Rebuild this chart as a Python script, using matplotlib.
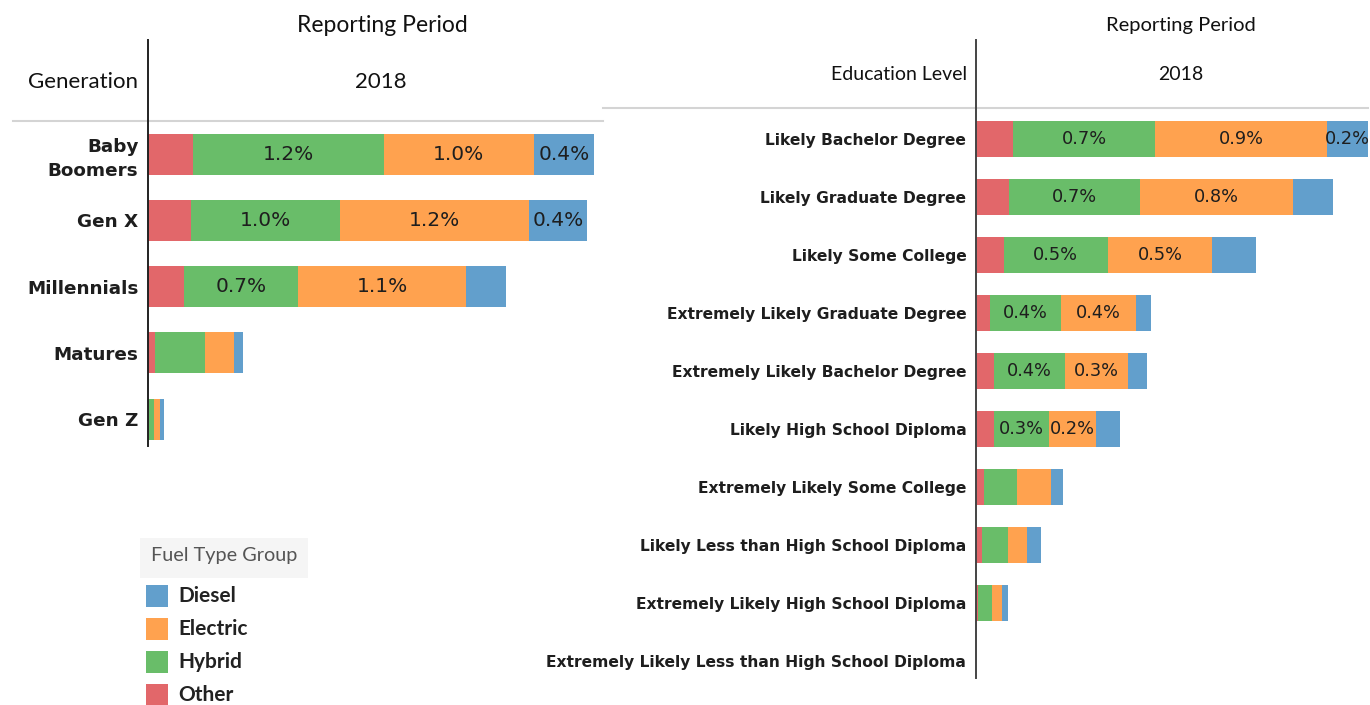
import matplotlib
matplotlib.use("Agg")
import matplotlib.pyplot as plt
from matplotlib.patches import Rectangle
from matplotlib.lines import Line2D

# ---- data (share of registrations, %) ----
fuel_types = ["Other", "Hybrid", "Electric", "Diesel"]
colors = {"Diesel": "#629FCC", "Electric": "#FFA24F", "Hybrid": "#69BD69", "Other": "#E2676A"}

generations = ["Baby\nBoomers", "Gen X", "Millennials", "Matures", "Gen Z"]
gen_other    = [0.29, 0.28, 0.23, 0.045, 0.006]
gen_hybrid   = [1.23, 0.96, 0.74, 0.32, 0.03]
gen_electric = [0.97, 1.22, 1.08, 0.19, 0.04]
gen_diesel   = [0.39, 0.37, 0.26, 0.06, 0.025]
gen_labels = {"Other":    [False] * 5,
              "Hybrid":   [True, True, True, False, False],
              "Electric": [True, True, True, False, False],
              "Diesel":   [True, True, False, False, False]}

education = ["Likely Bachelor Degree", "Likely Graduate Degree", "Likely Some College",
             "Extremely Likely Graduate Degree", "Extremely Likely Bachelor Degree",
             "Likely High School Diploma", "Extremely Likely Some College",
             "Likely Less than High School Diploma", "Extremely Likely High School Diploma",
             "Extremely Likely Less than High School Diploma"]
edu_other    = [0.19, 0.17, 0.14, 0.07, 0.09, 0.09, 0.04, 0.03, 0.01, 0.0]
edu_hybrid   = [0.72, 0.66, 0.53, 0.36, 0.36, 0.28, 0.17, 0.13, 0.07, 0.0]
edu_electric = [0.87, 0.78, 0.53, 0.38, 0.32, 0.24, 0.17, 0.10, 0.05, 0.0]
edu_diesel   = [0.21, 0.20, 0.22, 0.08, 0.10, 0.12, 0.06, 0.07, 0.03, 0.0]
edu_labels = {"Other":    [False] * 10,
              "Hybrid":   [True] * 6 + [False] * 4,
              "Electric": [True] * 6 + [False] * 4,
              "Diesel":   [True] + [False] * 9}

W, H = 1370, 705
fig = plt.figure(figsize=(W / 100, H / 100), dpi=100)
fig.patch.set_facecolor("white")

HEAD_FONT = ["Lato", "DejaVu Sans"]
LABEL_FONT = ["DejaVu Sans"]


def fx(x):
    return x / W


def fy(y):
    return 1 - y / H


def stacked(ax, cats, series, labels, fontsize, lab_size, height):
    y = range(len(cats))
    left = [0.0] * len(cats)
    for name in fuel_types:
        vals = series[name]
        ax.barh(list(y), vals, left=left, height=height, color=colors[name],
                edgecolor="none")
        for i, v in enumerate(vals):
            if labels[name][i]:
                ax.text(left[i] + v / 2, i, f"{v:.1f}%", ha="center", va="center",
                        fontsize=lab_size, color="#1e1e1e", family=LABEL_FONT)
        left = [l + v for l, v in zip(left, vals)]
    ax.set_yticks(list(y))
    ax.set_yticklabels(cats, fontsize=fontsize, fontweight="bold", family=LABEL_FONT,
                       color="#1e1e1e", linespacing=1.45)
    ax.tick_params(axis="y", length=0, pad=7)
    ax.tick_params(axis="x", bottom=False, labelbottom=False)
    for s in ax.spines.values():
        s.set_visible(False)


# ---- left panel: generation ----
axl = fig.add_axes([fx(148), fy(445), fx(603) - fx(148), fy(121) - fy(445)])
stacked(axl, generations,
        {"Other": gen_other, "Hybrid": gen_hybrid, "Electric": gen_electric, "Diesel": gen_diesel},
        gen_labels, 13.2, 14.5, 0.62)
axl.set_xlim(0, 455 / 155)
axl.set_ylim(4.39, -0.5)

# ---- right panel: education level ----
axr = fig.add_axes([fx(976), fy(677), fx(1368) - fx(976), fy(108) - fy(677)])
stacked(axr, education,
        {"Other": edu_other, "Hybrid": edu_hybrid, "Electric": edu_electric, "Diesel": edu_diesel},
        edu_labels, 11.2, 12.8, 0.62)
axr.set_xlim(0, 392 / 197)
axr.set_ylim(9.28, -0.526)

# ---- header rules and dividers ----
fig.add_artist(Line2D([fx(13), fx(603)], [fy(121), fy(121)], color="#d4d4d4", lw=1.5))
fig.add_artist(Line2D([fx(603), fx(1368)], [fy(108), fy(108)], color="#d4d4d4", lw=1.5))
fig.add_artist(Line2D([fx(148), fx(148)], [fy(40), fy(446)], color="#222222", lw=1.4))
fig.add_artist(Line2D([fx(976), fx(976)], [fy(40), fy(678)], color="#444444", lw=1.4))

# ---- header texts ----
fig.text(fx(382), fy(26), "Reporting Period", ha="center", va="center", fontsize=16.5,
         family=HEAD_FONT, color="#111111")
fig.text(fx(381), fy(82), "2018", ha="center", va="center", fontsize=16,
         family=HEAD_FONT, color="#111111")
fig.text(fx(138), fy(82), "Generation", ha="right", va="center", fontsize=16,
         family=HEAD_FONT, color="#111111")
fig.text(fx(1181), fy(25), "Reporting Period", ha="center", va="center", fontsize=14.5,
         family=HEAD_FONT, color="#111111")
fig.text(fx(1181), fy(74), "2018", ha="center", va="center", fontsize=14,
         family=HEAD_FONT, color="#111111")
fig.text(fx(967), fy(74), "Education Level", ha="right", va="center", fontsize=14,
         family=HEAD_FONT, color="#111111")

# ---- legend ----
fig.add_artist(Rectangle((fx(140), fy(578)), fx(308) - fx(140), fy(538) - fy(578),
                         transform=fig.transFigure, facecolor="#f5f5f5", edgecolor="none"))
fig.text(fx(151), fy(556), "Fuel Type Group", ha="left", va="center", fontsize=14.3,
         family=HEAD_FONT, color="#555555")
legend_order = ["Diesel", "Electric", "Hybrid", "Other"]
for k, name in enumerate(legend_order):
    yc = 596 + 33 * k
    fig.add_artist(Rectangle((fx(146), fy(yc + 11)), fx(22), fy(0) - fy(22),
                             transform=fig.transFigure, facecolor=colors[name],
                             edgecolor="none"))
    fig.text(fx(178), fy(yc), name, ha="left", va="center", fontsize=15,
             fontweight="bold", family=HEAD_FONT, color="#222222")

fig.savefig("out.png", dpi=100, facecolor="white")
